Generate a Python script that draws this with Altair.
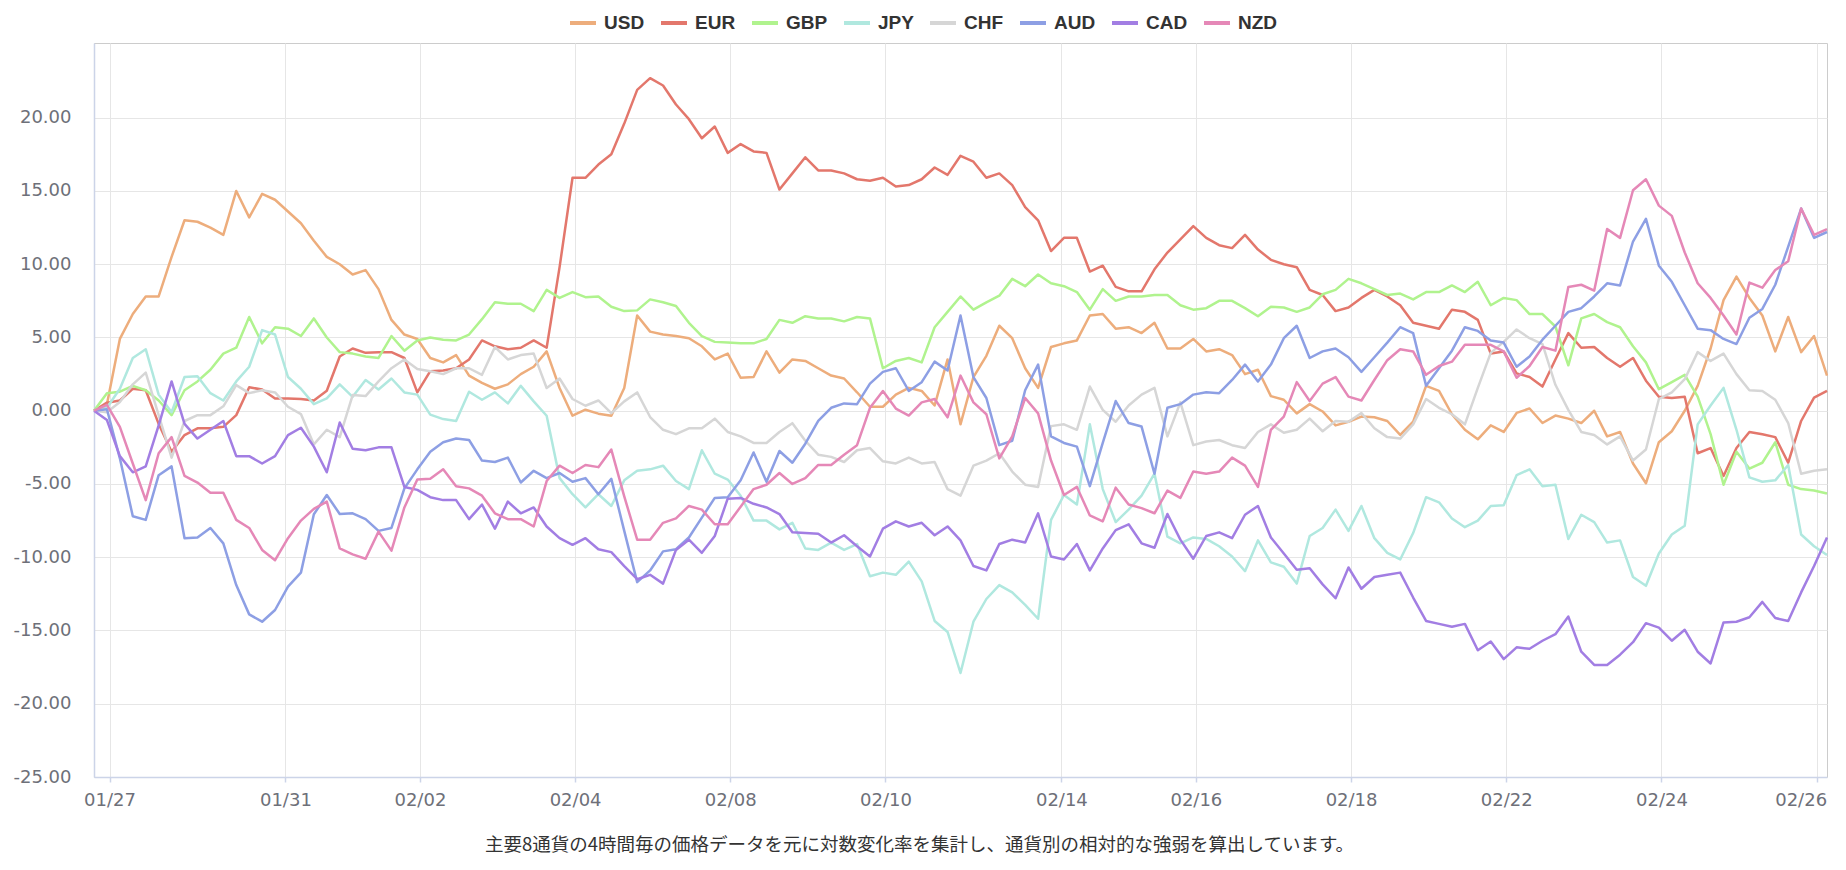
import altair as alt
import pandas as pd

CURRENCIES = ["USD", "EUR", "GBP", "JPY", "CHF", "AUD", "CAD", "NZD"]
COLORS = ["#EDAD7C", "#E3776C", "#B0F38E", "#B0E8DF", "#D6D6D6", "#8D9FE4", "#A27EE3", "#E588B7"]

TICK_POS = [1.2, 14.8, 25.2, 37.2, 49.2, 61.2, 74.8, 85.2, 97.2, 109.2, 121.2, 133.2]
TICK_LABELS = ["01/27", "01/31", "02/02", "02/04", "02/08", "02/10",
               "02/14", "02/16", "02/18", "02/22", "02/24", "02/26"]
Y_TICKS = [-25, -20, -15, -10, -5, 0, 5, 10, 15, 20]
CAPTION = "主要8通貨の4時間毎の価格データを元に対数変化率を集計し、通貨別の相対的な強弱を算出しています。"

USD = [0, 0.45, 4.9, 6.6, 7.8, 7.8, 10.5, 13.0, 12.9, 12.5, 12.0, 15.0, 13.2, 14.8, 14.4, 13.6, 12.8, 11.6, 10.5, 10.0, 9.3, 9.6, 8.3, 6.2,
       5.2, 4.9, 3.6, 3.3, 3.8, 2.4, 1.9, 1.5, 1.8, 2.5, 3.0, 4.05, 1.55, -0.34, 0.07, -0.2, -0.34, 1.55, 6.5, 5.4, 5.2, 5.1,
       4.95, 4.4, 3.5, 3.9, 2.25, 2.3, 4.05, 2.6, 3.5, 3.4, 2.9, 2.4, 2.2, 1.26, 0.27, 0.27, 1.1, 1.56, 1.35, 0.36, 3.5, -0.93, 2.3, 3.75, 5.8,
       4.95, 2.9, 1.56, 4.35, 4.6, 4.8, 6.5, 6.6, 5.6, 5.7, 5.3, 6.0, 4.25, 4.25, 4.9, 4.05, 4.2, 3.8, 2.5, 2.8, 1.0, 0.75, -0.18, 0.45, -0.05,
       -1.0, -0.75, -0.4, -0.45, -0.7, -1.65, -0.75, 1.7, 1.35, -0.24, -1.3, -1.95, -1.0, -1.45, -0.15, 0.15, -0.84, -0.33, -0.54, -0.84, 0, -1.75, -1.45, -3.6,
       -4.95, -2.15, -1.4, 0, 1.7, 4.25, 7.55, 9.15, 7.7, 6.5, 4.05, 6.4, 4.0, 5.1, 2.4]

EUR = [0, 0.55, 0.7, 1.5, 1.4, -0.9, -2.8, -1.66, -1.2, -1.2, -1.1, -0.3, 1.6, 1.45, 0.84, 0.84, 0.8, 0.7, 1.36, 3.7, 4.25, 3.95, 4.0, 4.0,
       3.6, 1.25, 2.7, 2.75, 2.9, 3.5, 4.8, 4.4, 4.2, 4.3, 4.8, 4.3, 9.8, 15.9, 15.9, 16.8, 17.5, 19.6, 21.9, 22.7, 22.2, 20.9,
       19.9, 18.6, 19.4, 17.6, 18.2, 17.7, 17.6, 15.1, 16.2, 17.3, 16.4, 16.4, 16.2, 15.8, 15.7, 15.9, 15.3, 15.4, 15.8, 16.6, 16.1, 17.4, 17.0, 15.9, 16.2,
       15.4, 13.9, 13.0, 10.9, 11.8, 11.8, 9.5, 9.9, 8.45, 8.15, 8.15, 9.65, 10.8, 11.7, 12.6, 11.8, 11.3, 11.1, 12.0, 11.0, 10.3, 10.0, 9.8, 8.25, 7.9,
       6.8, 7.05, 7.7, 8.25, 7.8, 7.2, 6.0, 5.8, 5.6, 6.9, 6.75, 6.2, 3.9, 4.05, 2.55, 2.3, 1.65, 3.5, 5.3, 4.3, 4.35, 3.6, 3.0, 3.6,
       2.05, 0.96, 0.87, 0.96, -2.9, -2.55, -4.45, -2.55, -1.45, -1.6, -1.8, -3.55, -0.7, 0.9, 1.35]

GBP = [0, 1.2, 1.3, 1.7, 1.4, 0.7, -0.3, 1.4, 2.0, 2.8, 3.9, 4.3, 6.4, 4.6, 5.7, 5.6, 5.1, 6.3, 5.0, 4.0, 3.9, 3.7, 3.6, 5.1,
       4.1, 4.8, 5.0, 4.85, 4.8, 5.2, 6.25, 7.4, 7.3, 7.3, 6.8, 8.25, 7.7, 8.1, 7.75, 7.8, 7.1, 6.8, 6.85, 7.6, 7.4, 7.15,
       6.0, 5.1, 4.7, 4.65, 4.6, 4.6, 4.9, 6.2, 6.0, 6.45, 6.3, 6.3, 6.1, 6.4, 6.3, 2.9, 3.4, 3.6, 3.3, 5.7, 6.75, 7.8, 6.9, 7.4, 7.85,
       9.0, 8.5, 9.3, 8.7, 8.5, 8.1, 6.9, 8.3, 7.5, 7.8, 7.8, 7.9, 7.9, 7.2, 6.9, 7.0, 7.5, 7.5, 7.0, 6.45, 7.1, 7.05, 6.75, 7.05, 7.95,
       8.25, 9.0, 8.7, 8.3, 7.9, 8.0, 7.6, 8.1, 8.1, 8.55, 8.1, 8.8, 7.2, 7.7, 7.55, 6.6, 6.6, 5.75, 3.1, 6.3, 6.6, 6.05, 5.7, 4.4,
       3.3, 1.47, 1.95, 2.45, 0.96, -1.6, -5.05, -2.8, -3.95, -3.55, -2.15, -5.05, -5.35, -5.45, -5.65]

JPY = [0, 0.2, 1.5, 3.6, 4.2, 1.1, -0.1, 2.3, 2.35, 1.2, 0.7, 2.0, 3.0, 5.5, 5.2, 2.3, 1.5, 0.45, 0.84, 1.8, 0.95, 2.1, 1.45, 2.2,
       1.25, 1.1, -0.27, -0.57, -0.7, 1.3, 0.75, 1.25, 0.5, 1.7, 0.64, -0.34, -4.6, -5.7, -6.6, -5.7, -6.5, -4.75, -4.1, -4.0, -3.75, -4.8,
       -5.35, -2.7, -4.3, -4.7, -5.8, -7.5, -7.5, -8.1, -7.65, -9.4, -9.5, -9.0, -9.5, -9.1, -11.3, -11.05, -11.2, -10.3, -11.65, -14.35, -15.1, -17.9, -14.4, -12.85, -11.9,
       -12.4, -13.25, -14.2, -7.45, -5.75, -6.4, -0.93, -5.35, -7.6, -6.75, -5.8, -4.3, -8.6, -9.05, -8.65, -8.75, -9.25, -9.95, -10.95, -8.85, -10.35, -10.65, -11.8, -8.55, -8.0,
       -6.75, -8.2, -6.5, -8.7, -9.7, -10.15, -8.35, -5.9, -6.25, -7.35, -7.95, -7.5, -6.5, -6.45, -4.4, -4.0, -5.15, -5.05, -8.75, -7.1, -7.6, -9.0, -8.85, -11.35,
       -11.95, -9.75, -8.45, -7.85, -0.93, 0.36, 1.56, -1.3, -4.55, -4.85, -4.75, -3.7, -8.45, -9.25, -9.85]

CHF = [0, -0.1, 0.6, 1.8, 2.6, -0.3, -3.2, -0.7, -0.3, -0.3, 0.3, 1.75, 1.2, 1.4, 1.25, 0.27, -0.23, -2.3, -1.3, -1.8, 1.07, 1.0, 2.0, 2.9,
       3.5, 2.85, 2.7, 2.5, 2.9, 2.9, 2.45, 4.35, 3.5, 3.8, 3.9, 1.55, 2.2, 0.8, 0.34, 0.7, -0.16, 0.64, 1.25, -0.43, -1.3, -1.6,
       -1.2, -1.2, -0.54, -1.45, -1.75, -2.2, -2.2, -1.45, -0.85, -2.05, -3.0, -3.15, -3.5, -2.7, -2.55, -3.45, -3.6, -3.2, -3.6, -3.5, -5.35, -5.8, -3.75, -3.4, -2.9,
       -4.15, -5.05, -5.2, -1.05, -0.93, -1.3, 1.65, 0.06, -0.75, 0.36, 1.1, 1.56, -1.75, 0.57, -2.35, -2.1, -2.0, -2.35, -2.55, -1.45, -0.93, -1.5, -1.3, -0.54, -1.4,
       -0.7, -0.75, -0.15, -1.2, -1.8, -1.9, -0.93, 0.8, 0.2, -0.24, -0.93, 1.56, 3.95, 4.7, 5.55, 4.95, 4.55, 1.77, 0.06, -1.45, -1.65, -2.3, -1.75, -3.4,
       -2.65, 0.8, 1.26, 2.15, 4.0, 3.4, 3.9, 2.5, 1.4, 1.35, 0.75, -0.84, -4.3, -4.1, -4.0]

AUD = [0, 0.1, -3.25, -7.2, -7.45, -4.4, -3.8, -8.7, -8.66, -8.0, -9.05, -11.9, -13.9, -14.4, -13.6, -12.0, -11.05, -7.07, -5.75, -7.05, -7.0, -7.4, -8.2, -8.0,
       -5.3, -4.0, -2.8, -2.15, -1.9, -2.0, -3.4, -3.5, -3.2, -4.9, -4.1, -4.6, -4.25, -4.85, -4.6, -5.7, -4.65, -8.2, -11.7, -10.9, -9.6, -9.45,
       -8.65, -7.3, -5.95, -5.9, -4.75, -2.85, -4.85, -2.75, -3.55, -2.25, -0.7, 0.2, 0.5, 0.45, 1.85, 2.65, 2.9, 1.35, 1.95, 3.35, 2.75, 6.5, 2.3, 0.87, -2.35,
       -2.05, 1.4, 3.15, -1.75, -2.2, -2.45, -5.15, -2.2, 0.66, -0.84, -1.08, -4.3, 0.2, 0.45, 1.1, 1.26, 1.2, 2.1, 3.15, 2.0, 3.15, 4.95, 5.8, 3.6, 4.05,
       4.25, 3.65, 2.65, 3.65, 4.65, 5.7, 5.3, 1.7, 2.9, 4.1, 5.7, 5.45, 4.8, 4.65, 3.0, 3.7, 4.85, 5.8, 6.75, 7.0, 7.8, 8.7, 8.55, 11.55,
       13.1, 9.9, 8.8, 7.2, 5.6, 5.5, 4.9, 4.55, 6.35, 6.95, 8.6, 11.2, 13.8, 11.8, 12.2]

CAD = [0, -0.64, -3.1, -4.2, -3.8, -1.0, 2.0, -0.9, -1.9, -1.3, -0.7, -3.1, -3.1, -3.6, -3.1, -1.66, -1.16, -2.45, -4.2, -0.8, -2.6, -2.7, -2.5, -2.5,
       -5.2, -5.4, -5.9, -6.1, -6.1, -7.4, -6.4, -8.05, -6.2, -7.0, -6.6, -7.9, -8.7, -9.15, -8.7, -9.45, -9.65, -10.6, -11.5, -11.2, -11.8, -9.5,
       -8.8, -9.7, -8.55, -6.0, -5.95, -6.35, -6.6, -7.05, -8.3, -8.35, -8.4, -9.0, -8.5, -9.25, -9.95, -8.05, -7.55, -7.9, -7.65, -8.5, -7.9, -8.85, -10.6, -10.9, -9.1,
       -8.8, -9.0, -7.0, -9.95, -10.15, -9.1, -10.9, -9.4, -8.15, -7.75, -9.05, -9.35, -7.05, -8.8, -10.1, -8.55, -8.3, -8.7, -7.1, -6.5, -8.65, -9.75, -10.85, -10.75, -11.85,
       -12.8, -10.7, -12.15, -11.35, -11.2, -11.05, -12.75, -14.35, -14.55, -14.75, -14.55, -16.35, -15.75, -16.95, -16.15, -16.25, -15.7, -15.25, -14.05, -16.45, -17.35, -17.35, -16.65, -15.8,
       -14.5, -14.8, -15.7, -14.95, -16.45, -17.25, -14.45, -14.4, -14.1, -13.05, -14.15, -14.35, -12.4, -10.6, -8.65]

NZD = [0, 0.4, -1.1, -3.6, -6.1, -2.9, -1.8, -4.45, -4.9, -5.6, -5.6, -7.45, -8.0, -9.5, -10.2, -8.7, -7.5, -6.7, -6.2, -9.4, -9.8, -10.1, -8.25, -9.55,
       -6.6, -4.7, -4.65, -4.0, -5.15, -5.3, -5.8, -7.0, -7.4, -7.4, -7.9, -4.8, -3.75, -4.25, -3.7, -3.85, -2.65, -5.85, -8.8, -8.8, -7.65, -7.35,
       -6.5, -6.75, -7.75, -7.75, -6.55, -5.35, -5.05, -4.25, -5.0, -4.6, -3.7, -3.7, -3.0, -2.35, 0.2, 1.35, 0.15, -0.33, 0.57, 0.8, -0.45, 2.4, 0.57, -0.24, -3.25,
       -1.75, 0.87, -0.18, -3.4, -5.75, -5.2, -7.15, -7.55, -5.25, -6.4, -6.65, -7.0, -5.45, -5.95, -4.15, -4.3, -4.15, -3.2, -3.75, -5.2, -1.3, -0.4, 1.95, 0.66, 1.85,
       2.3, 0.96, 0.7, 2.1, 3.45, 4.2, 4.05, 2.45, 3.05, 3.35, 4.5, 4.5, 4.5, 4.05, 2.25, 3.05, 4.35, 4.1, 8.45, 8.6, 8.2, 12.4, 11.8, 15.05,
       15.8, 14.0, 13.3, 10.8, 8.7, 7.7, 6.5, 5.2, 8.75, 8.4, 9.6, 10.2, 13.8, 12.0, 12.4]

SERIES = {"USD": USD, "EUR": EUR, "GBP": GBP, "JPY": JPY,
          "CHF": CHF, "AUD": AUD, "CAD": CAD, "NZD": NZD}

rows = []
for cur in CURRENCIES:
    for i, v in enumerate(SERIES[cur]):
        rows.append({"i": i, "value": v, "currency": cur})
df = pd.DataFrame(rows)
n_max = max(len(s) for s in SERIES.values()) - 1

label_expr = ("[" + ",".join("'%s'" % t for t in TICK_LABELS) + "][indexof(["
              + ",".join(str(p) for p in TICK_POS) + "], datum.value)]")
y_label_expr = "replace(format(datum.value, '.2f'), '\u2212', '-')"

AXIS_BLUE = "#ccd4e8"
GRID = "#e6e6e6"
LABEL_FONT = "DejaVu Sans"

x_enc = alt.X(
    "i:Q",
    scale=alt.Scale(domain=[0, n_max], nice=False, zero=False),
    axis=alt.Axis(
        values=TICK_POS, labelExpr=label_expr, title=None,
        grid=True, gridColor=GRID, gridWidth=1,
        domainColor=AXIS_BLUE, domainWidth=1.5,
        tickColor=AXIS_BLUE, tickSize=5, tickWidth=1.5,
        labelFont=LABEL_FONT, labelFontSize=18, labelColor="#6E7079",
        labelPadding=9, labelFlush=False,
        labelOffset={"condition": {"test": "datum.value > 130", "value": -16}, "value": 0},
    ),
)

y_enc = alt.Y(
    "value:Q",
    scale=alt.Scale(domain=[-25, 25.1], nice=False, zero=False),
    axis=alt.Axis(
        values=Y_TICKS, labelExpr=y_label_expr, title=None,
        grid=True, gridColor=GRID, gridWidth=1,
        ticks=False, tickSize=0,
        domainColor=AXIS_BLUE, domainWidth=1.5,
        labelFont=LABEL_FONT, labelFontSize=18, labelColor="#6E7079",
        labelPadding=23,
    ),
)

color_enc = alt.Color(
    "currency:N",
    scale=alt.Scale(domain=CURRENCIES, range=COLORS),
    legend=alt.Legend(
        title=None, orient="none", legendX=474, legendY=-35,
        direction="horizontal", symbolType="stroke", symbolSize=676,
        symbolStrokeWidth=4, labelFont="Liberation Sans", labelFontSize=19,
        labelFontWeight="bold", labelColor="#333333", labelOffset=6,
        columnPadding=8, padding=0,
    ),
)

chart = (
    alt.Chart(df)
    .mark_line(strokeWidth=2.5, strokeJoin="round")
    .encode(x=x_enc, y=y_enc, color=color_enc)
    .properties(
        width=1733, height=734,
        autosize=alt.AutoSizeParams(type="none"),
        padding={"left": 86, "top": 35, "right": 10, "bottom": 78},
        title=alt.TitleParams(
            text=CAPTION, orient="bottom", anchor="middle",
            font="Noto Sans CJK JP", fontSize=18.5, fontWeight="normal",
            color="#333333", offset=27, dx=-41,
        ),
    )
    .configure_view(stroke="#cccccc", strokeWidth=1)
)

chart.save("out.html", embed_options={"renderer": "svg", "actions": False})
